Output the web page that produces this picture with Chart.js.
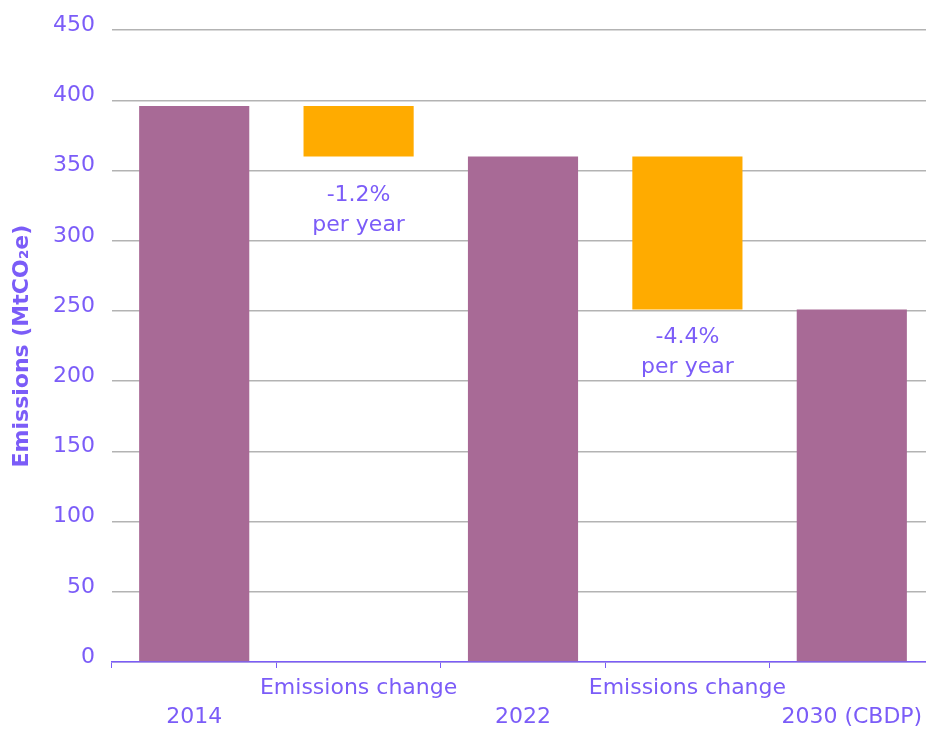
<!DOCTYPE html>
<html>
<head>
<meta charset="utf-8">
<script src="https://cdn.jsdelivr.net/npm/chart.js@4"></script>
<style>
  html, body { margin: 0; padding: 0; overflow: hidden; background: #fff; }
  #wrap { width: 934px; height: 729px; }
</style>
</head>
<body>
<div id="wrap"><canvas id="chart"></canvas></div>
<script>
// Данные
const yearLabels = ["2014", "2022", "2030 (CBDP)"];
const emissions = [396, 360, 251];
const changeLabel = "Emissions change";
const changeRates = ["-1.2%", "-4.4%"];

const TEXT = "#7b5cf8";
const FONT = "'DejaVu Sans', sans-serif";

// Собираем водопад: год, изменение, год, изменение, год
const labels = [];
const bars = [];
const colors = [];
const notes = [];
yearLabels.forEach((y, i) => {
  labels.push(["", y]);
  bars.push([0, emissions[i]]);
  colors.push("#a86a96");
  notes.push(null);
  if (i < yearLabels.length - 1) {
    labels.push([changeLabel, ""]);
    bars.push([emissions[i + 1], emissions[i]]);
    colors.push("#ffab00");
    notes.push(changeRates[i]);
  }
});

// Подписи под оранжевыми столбцами
const noteGap = [39, 28];
const notesPlugin = {
  id: "notes",
  afterDatasetsDraw(chart) {
    const ctx = chart.ctx;
    const meta = chart.getDatasetMeta(0);
    let k = 0;
    ctx.save();
    ctx.fillStyle = TEXT;
    ctx.font = "22px " + FONT;
    ctx.textAlign = "center";
    ctx.textBaseline = "middle";
    notes.forEach((n, i) => {
      if (!n) return;
      const el = meta.data[i];
      const bottom = Math.max(el.y, el.base);
      const y = bottom + noteGap[k++];
      ctx.fillText(n, el.x, y);
      ctx.fillText("per year", el.x, y + 30);
    });
    ctx.restore();
  },
};

new Chart(document.getElementById("chart"), {
  type: "bar",
  data: {
    labels,
    datasets: [
      {
        data: bars,
        backgroundColor: colors,
        categoryPercentage: 1,
        barPercentage: 0.67,
      },
    ],
  },
  options: {
    responsive: true,
    maintainAspectRatio: false,
    animation: false,
    layout: { padding: { top: 29, right: 0, bottom: 0, left: 0 } },
    plugins: { legend: { display: false }, tooltip: { enabled: false } },
    scales: {
      x: {
        afterFit(scale) {
          scale.height = 67;
        },
        grid: {
          drawOnChartArea: false,
          drawTicks: true,
          tickLength: 6,
          color: TEXT,
          offset: true,
        },
        border: { display: true, color: TEXT, width: 1.5 },
        ticks: {
          color: TEXT,
          font: { family: FONT, size: 22, lineHeight: 1.35 },
          maxRotation: 0,
          autoSkip: false,
          padding: 5,
        },
      },
      y: {
        min: 0,
        max: 450,
        afterFit(scale) {
          scale.width = 112;
        },
        ticks: {
          stepSize: 50,
          color: TEXT,
          font: { family: FONT, size: 22 },
          padding: 17,
          labelOffset: -5,
        },
        grid: { color: "#b3b3b3", lineWidth: 1.5, drawTicks: false },
        border: { display: false },
        title: {
          display: true,
          text: "Emissions (MtCO₂e)",
          color: TEXT,
          font: { family: FONT, size: 22, weight: "bold" },
          padding: { top: 9, bottom: 10 },
        },
      },
    },
  },
  plugins: [notesPlugin],
});
</script>
</body>
</html>
